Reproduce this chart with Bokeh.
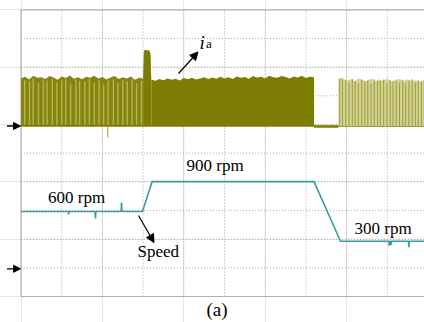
import numpy as np
from bokeh.plotting import figure
from bokeh.models import Range1d, Arrow, NormalHead, Label
from bokeh.embed import file_html
from bokeh.resources import INLINE

# ---------------- data (oscilloscope divisions / rpm) ----------------
# Channel 1: phase current i_a, amplitude in divisions above its ground marker
ia_A_t   = [0.0, 0.1, 0.2, 0.3, 0.4, 0.5, 0.6, 0.7, 0.8, 0.9, 1.0, 1.1, 1.2, 1.3, 1.4, 1.5,
            1.6, 1.7, 1.8, 1.9, 2.0, 2.1, 2.2, 2.3, 2.4, 2.5, 2.6, 2.7, 2.8, 2.9, 3.0]
ia_A_amp = [1.66, 1.72, 1.62, 1.75, 1.68, 1.70, 1.64, 1.74, 1.69, 1.61, 1.73, 1.67, 1.76, 1.65, 1.70, 1.63,
            1.72, 1.68, 1.75, 1.66, 1.71, 1.62, 1.69, 1.74, 1.64, 1.70, 1.66, 1.73, 1.61, 1.68, 1.65]
ia_S_t   = [3.00, 3.015, 3.03, 3.06, 3.10, 3.14, 3.17, 3.185, 3.20]
ia_S_amp = [1.65, 2.55, 2.64, 2.66, 2.63, 2.65, 2.58, 2.45, 1.62]
ia_B_t   = [3.2, 3.3, 3.4, 3.5, 3.6, 3.7, 3.8, 3.9, 4.0, 4.1, 4.2, 4.3, 4.4, 4.5, 4.6, 4.7, 4.8,
            4.9, 5.0, 5.1, 5.2, 5.3, 5.4, 5.5, 5.6, 5.7, 5.8, 5.9, 6.0, 6.1, 6.2, 6.3, 6.4, 6.5,
            6.6, 6.7, 6.8, 6.9, 7.0, 7.1, 7.2]
ia_B_amp = [1.62, 1.58, 1.64, 1.60, 1.66, 1.61, 1.65, 1.59, 1.67, 1.63, 1.68, 1.62, 1.66, 1.70, 1.64, 1.69, 1.65,
            1.72, 1.66, 1.70, 1.64, 1.73, 1.68, 1.71, 1.65, 1.74, 1.69, 1.72, 1.66, 1.75, 1.70, 1.68, 1.74, 1.71,
            1.66, 1.73, 1.69, 1.75, 1.67, 1.72, 1.70]
ia_C_t   = [7.20, 7.80]
ia_C_amp = [-0.03, -0.03]
ia_D_t   = [7.80, 7.9, 8.0, 8.1, 8.2, 8.3, 8.4, 8.5, 8.6, 8.7, 8.8, 8.9, 9.0, 9.1, 9.2, 9.3,
            9.4, 9.5, 9.6, 9.7, 9.8, 9.92]
ia_D_amp = [1.66, 1.68, 1.58, 1.64, 1.55, 1.66, 1.60, 1.57, 1.65, 1.56, 1.62, 1.58, 1.66, 1.55, 1.61, 1.64,
            1.56, 1.63, 1.58, 1.60, 1.54, 1.62]
# light gaps of the PWM pattern in the first segment (position, height)
gapA_t   = [0.09, 0.21, 0.30, 0.43, 0.55, 0.64, 0.77, 0.88, 1.00, 1.10, 1.22, 1.35, 1.44,
            1.57, 1.68, 1.80, 1.92, 2.03, 2.14, 2.27, 2.38, 2.50, 2.61, 2.73, 2.84, 2.96]
gapA_amp = [1.60, 1.55, 1.66, 1.50, 1.62, 1.58, 1.65, 1.52, 1.60, 1.63, 1.48, 1.62, 1.57,
            1.55, 1.64, 1.50, 1.60, 1.45, 1.58, 1.62, 1.52, 1.60, 1.56, 1.63, 1.50, 1.58]
# darker pulses in the last segment (position, height)
pulD_t   = [7.83, 7.90, 7.98, 8.06, 8.14, 8.21, 8.29, 8.37, 8.45, 8.52, 8.60, 8.68, 8.76,
            8.83, 8.91, 8.99, 9.07, 9.14, 9.22, 9.30, 9.38, 9.45, 9.53, 9.61, 9.69, 9.76, 9.84, 9.91]
pulD_amp = [1.66, 1.62, 1.60, 1.52, 1.64, 1.58, 1.50, 1.62, 1.55, 1.60, 1.48, 1.63, 1.58,
            1.56, 1.62, 1.50, 1.60, 1.55, 1.58, 1.52, 1.61, 1.49, 1.57, 1.63, 1.51, 1.59, 1.54, 1.60]
ia_dip_t, ia_dip_amp = 2.13, -0.40

# Channel 2: rotor speed (rpm)
spd_t   = [0.00, 1.16, 1.17, 1.18, 1.82, 1.83, 1.84, 2.46, 2.47, 2.48, 2.985, 3.22, 7.20, 7.85,
           9.04, 9.05, 9.06, 9.08, 9.09, 9.10, 9.52, 9.53, 9.54, 9.92]
spd_rpm = [600, 600, 570, 600, 600, 527, 600, 600, 694, 600, 600, 912, 912, 288,
           288, 240, 288, 288, 250, 288, 288, 225, 288, 288]

speed_labels = ["600 rpm", "900 rpm", "300 rpm"]

# ---------------- layout helpers ----------------
W, H = 424, 322
PXX, PXY = 40.7, 28.67          # px per division
LEFT, BOTTOM = 20.5, 296.0      # frame left / bottom in px
def dx(px): return (px - LEFT) / PXX
def dy(py): return (BOTTOM - py) / PXY

G1 = dy(125.5)                  # channel 1 ground
G2 = dy(268.3)                  # channel 2 ground
RPM_PER_DIV = 300.0

p = figure(width=W, height=H, x_range=Range1d(dx(0), dx(W)), y_range=Range1d(dy(H), dy(0)),
           output_backend="svg", toolbar_location=None, x_axis_location=None,
           y_axis_location=None, min_border=0)
p.outline_line_color = None
p.background_fill_color = "white"
p.border_fill_color = "white"

# grid
gcol = "#ababab"
p.segment(x0=list(range(1, 10)), y0=0, x1=list(range(1, 10)), y1=10,
          line_color=gcol, line_dash="1 2", line_width=1)
p.segment(x0=0, y0=list(range(1, 10)), x1=10, y1=list(range(1, 10)),
          line_color=gcol, line_dash="1 2", line_width=1)
# frame border (left, top, bottom)
bcol = "#b0b0b0"
p.segment(x0=[0, 0, 0], y0=[0, 10, 0], x1=[0, 10, 10], y1=[10, 10, 0],
          line_color=bcol, line_width=1.2)

# ---------------- current trace ----------------
dark = "#7d7c03"
def up(a): return [G1 + v for v in a]
p.varea(x=ia_A_t, y1=G1, y2=up(ia_A_amp), fill_color="#858410")
p.segment(x0=gapA_t, y0=G1 + 0.04, x1=gapA_t, y1=up(gapA_amp),
          line_color="#b6b44e", line_width=1.4)
p.segment(x0=[ia_dip_t], y0=[G1], x1=[ia_dip_t], y1=[G1 + ia_dip_amp],
          line_color="#b5b34a", line_width=1.2)
p.varea(x=ia_S_t, y1=G1, y2=up(ia_S_amp), fill_color=dark)
p.varea(x=ia_B_t, y1=G1, y2=up(ia_B_amp), fill_color=dark)
p.line(x=ia_C_t, y=up(ia_C_amp), line_color=dark, line_width=2)
p.line(x=[ia_A_t[0], ia_D_t[-1]], y=[G1, G1], line_color=dark, line_width=1.5)
p.varea(x=ia_D_t, y1=G1, y2=up(ia_D_amp), fill_color="#d3d29c")
p.segment(x0=pulD_t, y0=G1, x1=pulD_t, y1=up(pulD_amp),
          line_color="#a3a133", line_width=1.1)

# ---------------- speed trace ----------------
p.line(x=spd_t, y=[G2 + r / RPM_PER_DIV for r in spd_rpm],
       line_color="#3a9c9e", line_width=1.6)

# ---------------- markers, arrows, labels ----------------
for g in (G1, G2):
    p.add_layout(Arrow(end=NormalHead(size=7, fill_color="black", line_color="black"),
                       x_start=dx(6.5), y_start=g, x_end=dx(20), y_end=g,
                       line_color="black", line_width=1.3))
p.add_layout(Arrow(end=NormalHead(size=8, fill_color="black", line_color="black"),
                   x_start=dx(178), y_start=dy(73), x_end=dx(197.5), y_end=dy(51.5),
                   line_color="black", line_width=1.2))
p.add_layout(Arrow(end=NormalHead(size=8, fill_color="black", line_color="black"),
                   x_start=dx(138), y_start=dy(215), x_end=dx(153.5), y_end=dy(242),
                   line_color="black", line_width=1.2))

font = "Liberation Serif"
SHIFT = 7.0   # renderer places alphabetic baseline lower; compensate
def lab(txt, px, py, size, style="normal", align="left"):
    p.add_layout(Label(x=dx(px), y=dy(py - SHIFT), text=txt, text_font=font, text_font_size=size,
                       text_font_style=style, text_align=align, text_baseline="alphabetic",
                       text_color="black"))

lab("i", 199, 49, "19px", "italic")
lab("a", 205.5, 50, "13px")
lab(speed_labels[0], 47.5, 203.5, "17px")
lab(speed_labels[1], 186, 171.5, "17px")
lab(speed_labels[2], 354, 234.5, "17px")
lab("Speed", 137, 258, "17px")
lab("(a)", 216.5, 316, "19px", align="center")

open("out.html", "w").write(file_html(p, INLINE))
